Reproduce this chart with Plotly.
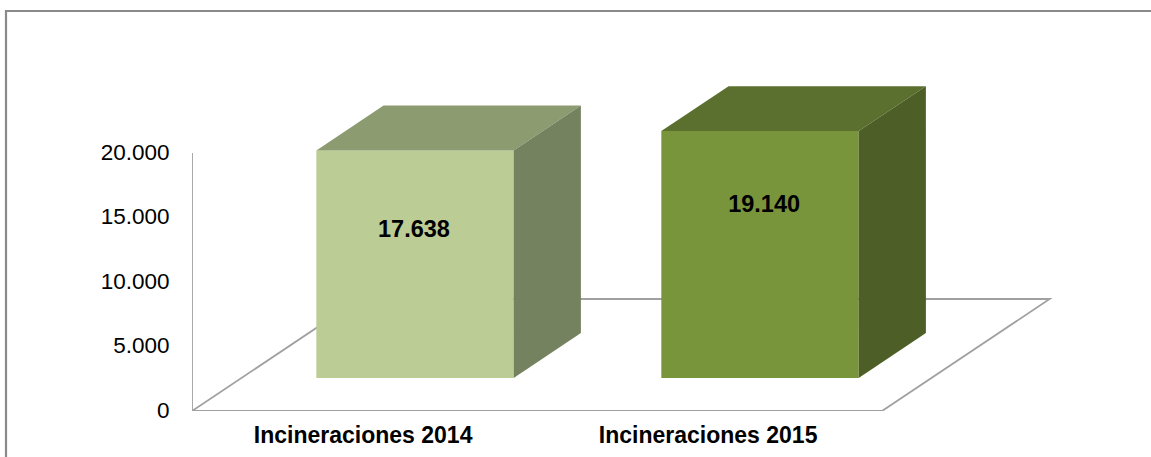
import plotly.graph_objects as go

# ---- data ----
categories = ["Incineraciones 2014", "Incineraciones 2015"]
values = [17638, 19140]
tick_values = [0, 5000, 10000, 15000, 20000]
tick_labels = ["0", "5.000", "10.000", "15.000", "20.000"]

# ---- styles ----
front_colors = ["#BBCC95", "#79953C"]
top_colors = ["#8D9B71", "#5B702F"]
side_colors = ["#75825F", "#4D5E26"]
GRID = "#A0A0A0"
FONT = "Liberation Sans, Arial, sans-serif"

# ---- oblique projection, in axis units ----
W, H = 1151, 457
M_L, M_B = 192, 46
PX_PER_UNIT_Y = 258 / 20000            # pixels per value unit
PX_PER_CAT = 345                       # pixels per category
FLOOR_DX, FLOOR_DY = 0.486, 8682       # full depth of the floor
NEAR, FAR = 0.295, 0.696               # bar depth along the floor
BAR_W = 0.572
BAR_NUDGE = 0.003
LABEL_DX = [-0.003, 0.012]             # offset of the value label from the bar centre
LABEL_FRAC = [0.645, 0.697]            # height of the value label within the bar

centers = [i + 0.5 for i in range(len(categories))]
base = NEAR * FLOOR_DY
shift = NEAR * FLOOR_DX + BAR_NUDGE
dx = (FAR - NEAR) * FLOOR_DX
dy = (FAR - NEAR) * FLOOR_DY

fig = go.Figure()

# front faces
fig.add_trace(go.Bar(
    x=[c + shift for c in centers], y=values, base=base, width=BAR_W,
    marker=dict(color=front_colors, line=dict(width=0)), hoverinfo="skip",
))

# top and side faces
for c, v, tc, sc in zip(centers, values, top_colors, side_colors):
    l = c + shift - BAR_W / 2
    r = c + shift + BAR_W / 2
    top = base + v
    fig.add_trace(go.Scatter(
        x=[l, r, r + dx, l + dx, l], y=[top, top, top + dy, top + dy, top],
        mode="lines", fill="toself", fillcolor=tc, line=dict(width=0), hoverinfo="skip",
    ))
    fig.add_trace(go.Scatter(
        x=[r, r + dx, r + dx, r, r], y=[base, base + dy, top + dy, top, base],
        mode="lines", fill="toself", fillcolor=sc, line=dict(width=0), hoverinfo="skip",
    ))

# value axis line and floor front edge
fig.add_trace(go.Scatter(
    x=[0, 0, len(categories)], y=[tick_values[-1], 0, 0], mode="lines",
    line=dict(color=GRID, width=1.8), cliponaxis=False, hoverinfo="skip",
))

# value labels
fig.add_trace(go.Scatter(
    x=[c + shift + d for c, d in zip(centers, LABEL_DX)],
    y=[base + v * f for v, f in zip(values, LABEL_FRAC)],
    mode="text",
    text=[f"{v:,}".replace(",", ".") for v in values],
    textposition="middle center",
    textfont=dict(family=FONT, size=23.5, color="#000000", weight="bold"),
    hoverinfo="skip",
))

plot_h = H - M_B
x_max = (W - M_L) / PX_PER_CAT
y_max = plot_h / PX_PER_UNIT_Y
n = len(categories)

fig.update_layout(
    width=W, height=H,
    margin=dict(l=M_L, r=0, t=0, b=M_B, pad=0),
    paper_bgcolor="#FFFFFF", plot_bgcolor="#FFFFFF",
    showlegend=False,
    xaxis=dict(
        range=[0, x_max], tickvals=[c - 0.004 for c in centers], ticktext=categories,
        showgrid=False, zeroline=False, showline=False, ticks="outside", ticklen=3,
        tickcolor="rgba(0,0,0,0)",
        tickfont=dict(family=FONT, size=23, color="#000000", weight="bold"),
    ),
    yaxis=dict(
        range=[0, y_max], tickvals=tick_values, ticktext=tick_labels, showgrid=False,
        zeroline=False, showline=False, ticks="outside", ticklen=17,
        tickcolor="rgba(0,0,0,0)", ticklabelshift=-1,
        tickfont=dict(family=FONT, size=22.5, color="#000000"),
    ),
    shapes=[
        # floor outline, beneath the bars
        dict(type="path", layer="below", xref="x", yref="y",
             path=(f"M 0,0 L {FLOOR_DX},{FLOOR_DY} L {n + FLOOR_DX},{FLOOR_DY} "
                   f"L {n},0"),
             line=dict(color=GRID, width=1.8)),
        # chart frame, its right and bottom sides fall outside the picture
        dict(type="rect", layer="below", xref="paper", yref="paper",
             x0=(6 - M_L) / (W - M_L), x1=1.05,
             y0=-0.3, y1=(plot_h - 11) / plot_h,
             line=dict(color="#8A8A8A", width=2.2)),
    ],
)

fig.write_html("out.html", config={"displayModeBar": False},
               post_script="document.body.style.margin='0';")
